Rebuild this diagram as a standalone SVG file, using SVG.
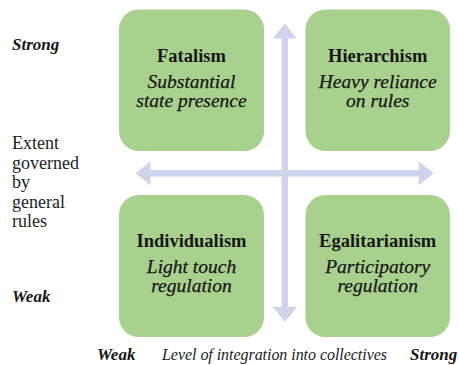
<svg xmlns="http://www.w3.org/2000/svg" width="459" height="365" viewBox="0 0 459 365">
  <rect width="459" height="365" fill="#fff"/>

  <!-- axes: double-headed arrows crossing between the quadrants -->
  <g id="connectors" fill="#cdd4ec">
    <polygon points="284.8,23.5 296.8,38.5 288.05,38.5 288.05,307 296.8,307 284.8,322 272.8,307 281.55,307 281.55,38.5 272.8,38.5"/>
    <polygon points="135.5,173.3 150.5,161.3 150.5,170.05 418.8,170.05 418.8,161.3 433.8,173.3 418.8,185.3 418.8,176.55 150.5,176.55 150.5,185.3"/>
  </g>

  <g id="fatalism">
    <rect x="119" y="9.5" width="145" height="141.5" rx="20" fill="#a9d18e"/>
    <text font-family="Liberation Serif" font-weight="bold" font-size="18.5" text-anchor="middle" fill="#161616" x="191.5" y="61.5">Fatalism</text>
    <text font-family="Liberation Serif" font-style="italic" font-size="19.5" text-anchor="middle" fill="#161616" stroke="#161616" stroke-width="0.25" x="191.5" y="88">Substantial</text>
    <text font-family="Liberation Serif" font-style="italic" font-size="19.5" text-anchor="middle" fill="#161616" stroke="#161616" stroke-width="0.25" x="191.5" y="107">state presence</text>
  </g>

  <g id="hierarchism">
    <rect x="305.5" y="9.5" width="144.5" height="141.5" rx="20" fill="#a9d18e"/>
    <text font-family="Liberation Serif" font-weight="bold" font-size="18.5" text-anchor="middle" fill="#161616" x="377.7" y="61.5">Hierarchism</text>
    <text font-family="Liberation Serif" font-style="italic" font-size="19.5" text-anchor="middle" fill="#161616" stroke="#161616" stroke-width="0.25" x="377.7" y="88">Heavy reliance</text>
    <text font-family="Liberation Serif" font-style="italic" font-size="19.5" text-anchor="middle" fill="#161616" stroke="#161616" stroke-width="0.25" x="377.7" y="107">on rules</text>
  </g>

  <g id="individualism">
    <rect x="119" y="195" width="145" height="142" rx="20" fill="#a9d18e"/>
    <text font-family="Liberation Serif" font-weight="bold" font-size="18.5" text-anchor="middle" fill="#161616" x="191.5" y="247">Individualism</text>
    <text font-family="Liberation Serif" font-style="italic" font-size="19.5" text-anchor="middle" fill="#161616" stroke="#161616" stroke-width="0.25" x="191.5" y="273">Light touch</text>
    <text font-family="Liberation Serif" font-style="italic" font-size="19.5" text-anchor="middle" fill="#161616" stroke="#161616" stroke-width="0.25" x="191.5" y="292">regulation</text>
  </g>

  <g id="egalitarianism">
    <rect x="305.5" y="195" width="144.5" height="142" rx="20" fill="#a9d18e"/>
    <text font-family="Liberation Serif" font-weight="bold" font-size="18.5" text-anchor="middle" fill="#161616" x="377.7" y="247">Egalitarianism</text>
    <text font-family="Liberation Serif" font-style="italic" font-size="19.5" text-anchor="middle" fill="#161616" stroke="#161616" stroke-width="0.25" x="377.7" y="273">Participatory</text>
    <text font-family="Liberation Serif" font-style="italic" font-size="19.5" text-anchor="middle" fill="#161616" stroke="#161616" stroke-width="0.25" x="377.7" y="292">regulation</text>
  </g>

  <!-- vertical axis labels -->
  <g id="y-axis-labels">
    <text font-family="Liberation Serif" font-weight="bold" font-style="italic" font-size="17" fill="#161616" x="12" y="50">Strong</text>
    <text font-family="Liberation Serif" font-size="18" fill="#222" x="12" y="149">Extent</text>
    <text font-family="Liberation Serif" font-size="18" fill="#222" x="12" y="168.5">governed</text>
    <text font-family="Liberation Serif" font-size="18" fill="#222" x="12" y="188">by</text>
    <text font-family="Liberation Serif" font-size="18" fill="#222" x="12" y="207.5">general</text>
    <text font-family="Liberation Serif" font-size="18" fill="#222" x="12" y="226.5">rules</text>
    <text font-family="Liberation Serif" font-weight="bold" font-style="italic" font-size="17" fill="#161616" x="12" y="302">Weak</text>
  </g>

  <!-- horizontal axis labels -->
  <g id="x-axis-labels">
    <text font-family="Liberation Serif" font-weight="bold" font-style="italic" font-size="17" fill="#161616" x="97" y="360">Weak</text>
    <text font-family="Liberation Serif" font-style="italic" font-size="16" fill="#222" x="162" y="360" textLength="225">Level of integration into collectives</text>
    <text font-family="Liberation Serif" font-weight="bold" font-style="italic" font-size="17" fill="#161616" x="410" y="360">Strong</text>
  </g>
</svg>
